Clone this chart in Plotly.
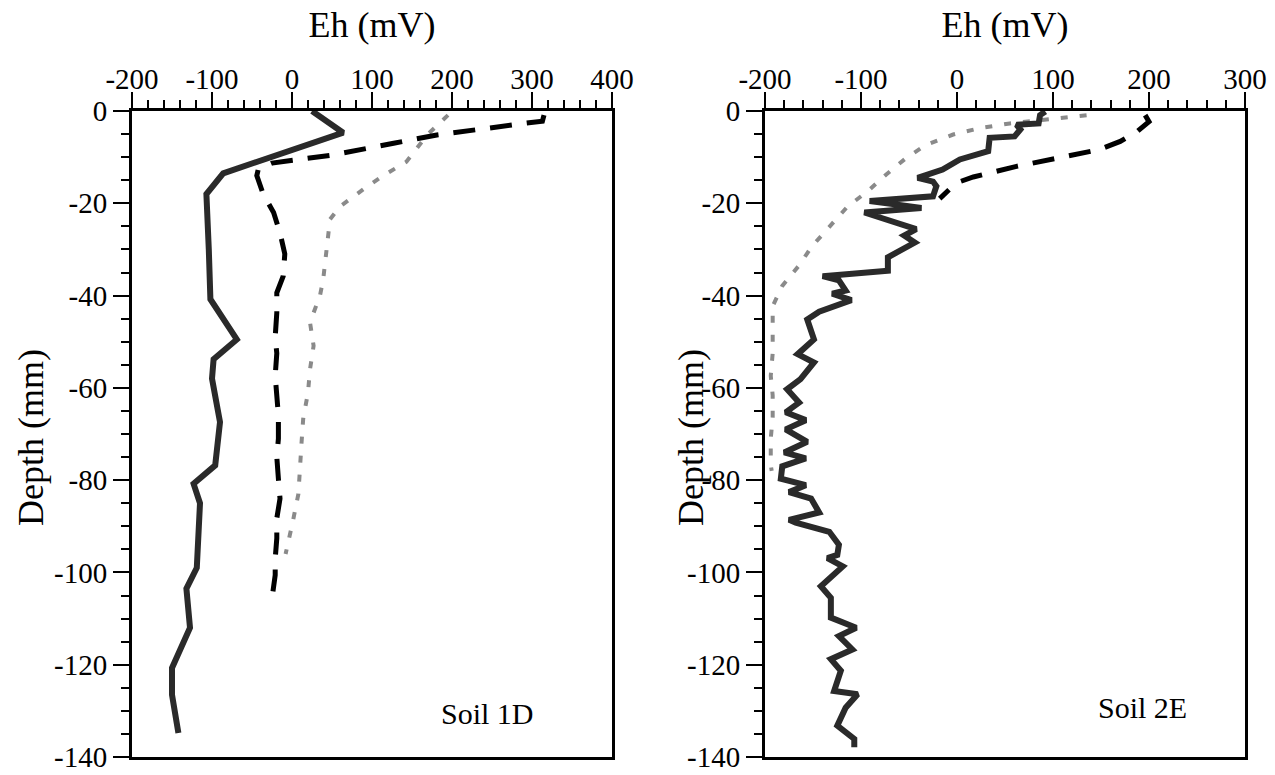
import plotly.graph_objects as go

# ---------------- data ----------------
# Soil 1D
s1_solid_eh = [25, 64, -86, -107, -104, -102, -69, -98, -100, -94, -90, -96, -123, -115, -119, -132, -127.5, -150, -150, -142]
s1_solid_depth = [0, -4.7, -13.5, -18, -30, -40.8, -49.5, -53.8, -58, -63, -67.4, -76.8, -80.8, -85, -99, -103.5, -112, -120.7, -126.5, -134.8]

s1_dash_eh = [315, 313, 285, 235, 181, 127, 52, -25, -42, -44, -36, -23, -15, -9, -11, -19, -19, -21, -19, -21, -19, -17, -17, -19, -17, -15, -19, -19, -21, -21, -25]
s1_dash_depth = [-0.9, -2.2, -2.8, -3.9, -5.2, -7, -9.5, -11.3, -12.5, -14, -18, -22, -26.4, -31, -35.8, -39.4, -43.7, -49, -52.5, -57.4, -62.4, -66, -71, -75, -79.7, -84, -88.3, -92.6, -97, -100.6, -105.6]

s1_dot_eh = [195, 170, 143, 114, 89, 60, 47.5, 43, 39, 35, 22.5, 27, 22.5, 20, 14, 12, 10, 8, 1, -5, -8]
s1_dot_depth = [-0.9, -5, -11, -14, -17, -20.7, -23.5, -30, -36.5, -40, -45.8, -50.9, -56, -61, -66.7, -71.7, -77.5, -83, -89, -94.4, -96]

# Soil 2E
s2_solid_eh = [92, 86.5, 85, 62, 66, 60, 34, 32.5, 3, -15, -41, -25, -21.5, -25, -91, -37, -96.5, -42.5, -55, -44, -72, -72,
               -140, -123, -116, -130, -110, -143.6, -156, -149, -166, -149, -163, -177, -164.5, -178.5, -157.5, -178.5,
               -156, -180, -157.5, -182, -183.5, -157.5, -175, -152, -143.6, -175, -168, -133, -123, -124.7, -135, -119,
               -141.8, -131.4, -131.4, -105, -123, -109, -131.4, -121, -128, -103.5, -116, -124.7, -107, -107]
s2_solid_depth = [-0.1, -0.9, -2.7, -3, -4, -5.5, -5.8, -8.7, -10.5, -12.7, -14.5, -15.3, -16.3, -18.5, -19.5, -21, -22, -25.6, -27, -28.5, -31.7, -34.6,
                  -35.8, -36.7, -38.9, -39.6, -41, -43.5, -45.2, -49.5, -52.7, -54.5, -58.1, -60.3, -63.2, -65.3, -67, -69,
                  -71.7, -74, -75.3, -77, -79.7, -81.1, -82.6, -84, -87, -88.6, -89.2, -91.2, -94, -96.2, -96.9, -98.7,
                  -103, -105.5, -109.8, -112, -113.8, -116.7, -118.8, -121.3, -125.7, -126.4, -129.3, -133.2, -136.1, -137.9]

s2_dash_eh = [196, 200, 188, 170, 147.5, 104, 62, 17, -1, -18]
s2_dash_depth = [-0.9, -2.3, -4.4, -6.6, -8.4, -10.2, -12, -14.3, -15.6, -19]

s2_dot_eh = [135, 100, 55, 24, -4, -32, -53, -74, -93, -114, -133, -151, -165, -182, -192, -192, -192, -194, -192, -192, -194, -194, -193]
s2_dot_depth = [-0.9, -1.6, -2.7, -3.7, -5.1, -7.3, -10.2, -13.8, -17.4, -20.7, -25, -29.3, -33.6, -37.9, -42.3, -47, -52.5, -57.4, -61.6, -66.4, -71, -76.8, -78]

# axis ticks / labels
x1_ticks = [-200, -100, 0, 100, 200, 300, 400]
x2_ticks = [-200, -100, 0, 100, 200, 300]
y_ticks = [0, -20, -40, -60, -80, -100, -120, -140]
x1_labels = ["-200", "-100", "0", "100", "200", "300", "400"]
x2_labels = ["-200", "-100", "0", "100", "200", "300"]
y_labels = ["0", "-20", "-40", "-60", "-80", "-100", "-120", "-140"]

panel_labels = ["Soil 1D", "Soil 2E"]

# ---------------- figure ----------------
FONT = "'Liberation Serif', 'Times New Roman', Times, serif"
W, H = 1275, 775

SOLID = dict(color="#2a2a2a", width=6)
DASH = dict(color="black", width=5, dash="22px,15px")
DOT = dict(color="#8a8a8a", width=4, dash="7px,12px")

fig = go.Figure()
fig.add_trace(go.Scatter(x=s1_dot_eh, y=s1_dot_depth, mode="lines", line=DOT, xaxis="x", yaxis="y"))
fig.add_trace(go.Scatter(x=s1_dash_eh, y=s1_dash_depth, mode="lines", line=DASH, xaxis="x", yaxis="y"))
fig.add_trace(go.Scatter(x=s1_solid_eh, y=s1_solid_depth, mode="lines", line=SOLID, xaxis="x", yaxis="y"))
fig.add_trace(go.Scatter(x=s2_dot_eh, y=s2_dot_depth, mode="lines", line=DOT, xaxis="x2", yaxis="y2"))
fig.add_trace(go.Scatter(x=s2_dash_eh, y=s2_dash_depth, mode="lines", line=DASH, xaxis="x2", yaxis="y2"))
fig.add_trace(go.Scatter(x=s2_solid_eh, y=s2_solid_depth, mode="lines", line=SOLID, xaxis="x2", yaxis="y2"))

ydom = [1 - 757 / H, 1 - 111 / H]


def xax(dom, rng, ticks, labels, anchor):
    return dict(
        domain=dom, range=rng, side="top", anchor=anchor,
        tickmode="array", tickvals=ticks, ticktext=labels,
        ticks="outside", ticklen=16, tickwidth=2, tickcolor="black",
        ticklabelstandoff=-9,
        minor=dict(tickmode="linear", tick0=0, dtick=20, ticks="outside", ticklen=8, tickwidth=1.5, tickcolor="black"),
        showline=True, linewidth=3, linecolor="black", mirror=True,
        showgrid=False, zeroline=False, automargin=False,
        tickfont=dict(family=FONT, size=29, color="black"),
        title=dict(text="Eh (mV)", font=dict(family=FONT, size=36, color="black"), standoff=15),
    )


def yax(dom, anchor):
    return dict(
        domain=dom, range=[-140, 0], anchor=anchor,
        tickmode="array", tickvals=y_ticks, ticktext=y_labels,
        ticks="outside", ticklen=16, tickwidth=2, tickcolor="black",
        minor=dict(tickmode="linear", tick0=0, dtick=5, ticks="outside", ticklen=8, tickwidth=1.5, tickcolor="black"),
        showline=True, linewidth=3, linecolor="black", mirror=True,
        showgrid=False, zeroline=False, automargin=False,
        tickfont=dict(family=FONT, size=29, color="black"),
    )


fig.update_layout(
    width=W, height=H,
    margin=dict(l=0, r=0, t=0, b=0),
    paper_bgcolor="white", plot_bgcolor="white",
    showlegend=False,
    xaxis=xax([132 / W, 612 / W], [-200, 400], x1_ticks, x1_labels, "y"),
    xaxis2=xax([765 / W, 1245 / W], [-200, 300], x2_ticks, x2_labels, "y2"),
    yaxis=yax(ydom, "x"),
    yaxis2=yax(ydom, "x2"),
)

# y-axis titles
for xc in (31, 691):
    fig.add_annotation(text="Depth (mm)", x=xc / W, y=1 - 438 / H, xref="paper", yref="paper",
                       textangle=-90, showarrow=False, xanchor="center", yanchor="middle",
                       font=dict(family=FONT, size=36, color="black"))

# panel labels
for (xc, yc), lab in zip([(487, 713), (1142, 707)], panel_labels):
    fig.add_annotation(text=lab, x=xc / W, y=1 - yc / H, xref="paper", yref="paper",
                       showarrow=False, xanchor="center", yanchor="middle",
                       font=dict(family=FONT, size=30, color="black"))

fig.write_html("out.html", config={"displayModeBar": False},
               post_script="document.body.style.margin='0px';document.body.style.overflow='hidden';")
